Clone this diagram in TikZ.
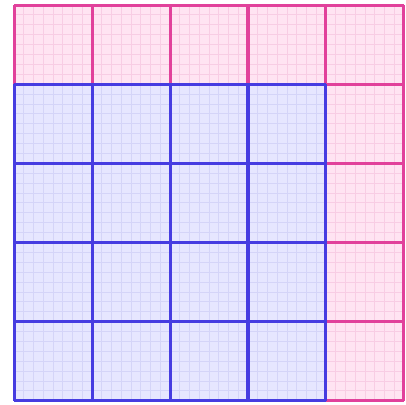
\documentclass[tikz,border=0pt]{standalone}
\definecolor{pinkfill}{RGB}{255,228,242}
\definecolor{pinkline}{RGB}{225,65,155}
\definecolor{pinkminor}{RGB}{248,205,228}
\definecolor{bluefill}{RGB}{230,230,255}
\definecolor{blueline}{RGB}{70,60,225}
\definecolor{blueminor}{RGB}{212,212,248}
\begin{document}
\begin{tikzpicture}[x=1cm,y=1.015cm,
  majorpink/.style={draw=pinkline,line width=1.1pt},
  minorpink/.style={draw=pinkminor,line width=0.3pt},
  majorblue/.style={draw=blueline,line width=1.1pt},
  minorblue/.style={draw=blueminor,line width=0.3pt}]
\useasboundingbox (-0.18,-0.05) rectangle (5.026,5.063);
\fill[pinkfill] (0,0) rectangle (5,5);
\draw[minorpink] (0,0) grid[step=0.125] (5,5);
\draw[majorpink] (0,0) grid[step=1] (5,5);
\fill[bluefill] (0,0) rectangle (4,4);
\draw[minorblue] (0,0) grid[step=0.125] (4,4);
\draw[majorblue] (0,0) grid[step=1] (4,4);
\end{tikzpicture}
\end{document}
